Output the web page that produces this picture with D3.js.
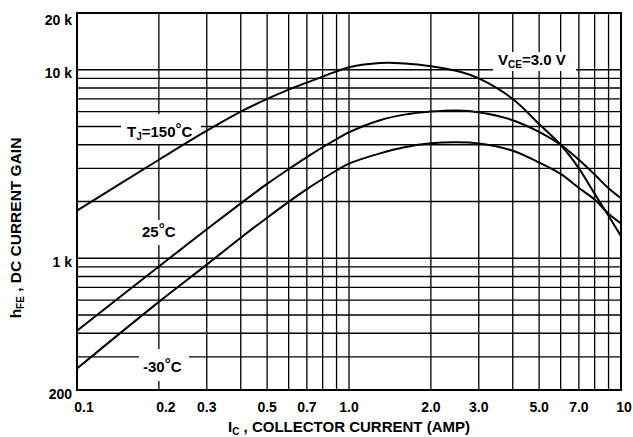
<!DOCTYPE html>
<html>
<head>
<meta charset="utf-8">
<script src="https://cdn.jsdelivr.net/npm/d3@7/dist/d3.min.js"></script>
<style>
  html, body { margin: 0; padding: 0; background: #fff; }
  svg { display: block; }
  text { font-family: "Liberation Sans", Arial, Helvetica, sans-serif; font-weight: bold; fill: #000; }
</style>
</head>
<body>
<svg id="chart" width="633" height="437"></svg>
<script>
// ---------- data ----------
const collectorCurrent = [0.1, 0.2, 0.3, 0.4, 0.5, 0.6, 0.7, 0.8, 0.9, 1.0, 1.3, 1.6, 2.0, 2.5, 3.0, 4.0, 5.0, 6.0, 7.0, 8.0, 9.0, 10];
const gain150C = [1790, 3330, 4750, 6000, 7000, 7850, 8550, 9200, 9800, 10300, 10850, 10800, 10450, 9850, 9000, 7000, 5150, 4000, 3000, 2200, 1680, 1310];
const gain25C  = [412, 905, 1425, 1955, 2480, 2970, 3440, 3880, 4290, 4660, 5400, 5780, 6000, 6080, 5950, 5400, 4680, 4000, 3330, 2780, 2350, 2080];
const gainM30C = [260, 587, 925, 1284, 1641, 1990, 2326, 2633, 2921, 3176, 3600, 3880, 4070, 4120, 4060, 3720, 3220, 2800, 2360, 2050, 1720, 1530];

const xTickValues = [0.1, 0.2, 0.3, 0.5, 0.7, 1.0, 2.0, 3.0, 5.0, 7.0, 10];
const xTickLabels = ["0.1", "0.2", "0.3", "0.5", "0.7", "1.0", "2.0", "3.0", "5.0", "7.0", "10"];
const yTickValues = [20000, 10000, 1000, 200];
const yTickLabels = ["20 k", "10 k", "1 k", "200"];

const xGrid = [0.2, 0.3, 0.4, 0.5, 0.6, 0.7, 0.8, 0.9, 1, 2, 3, 4, 5, 6, 7, 8, 9];
const yGrid = [300, 400, 500, 600, 700, 800, 900, 1000, 2000, 3000, 4000, 5000, 6000, 7000, 8000, 9000, 10000];

// ---------- layout ----------
const L = 77, R = 621, T = 13, B = 390;
const svg = d3.select("#chart");
const x = d3.scaleLog().domain([0.1, 10]).range([L, R]);
const y = d3.scaleLog().domain([200, 20000]).range([B, T]);

// grid
const g = svg.append("g").attr("stroke", "#000").attr("stroke-width", 1.3);
g.selectAll(".vx").data(xGrid).join("line")
  .attr("x1", d => x(d)).attr("x2", d => x(d)).attr("y1", T).attr("y2", B);
g.selectAll(".hy").data(yGrid).join("line")
  .attr("x1", L).attr("x2", R).attr("y1", d => y(d)).attr("y2", d => y(d));

// white gaps behind the in-plot labels
const gaps = [
  [121, 114, 80, 30],   // TJ label
  [139, 220, 44, 25],   // 25C
  [139, 349, 50, 32],   // -30C
  [493, 52, 83, 19]     // VCE
];
svg.append("g").selectAll("rect").data(gaps).join("rect")
  .attr("x", d => d[0]).attr("y", d => d[1]).attr("width", d => d[2]).attr("height", d => d[3])
  .attr("fill", "#fff");

// border
svg.append("rect").attr("x", L).attr("y", T).attr("width", R - L).attr("height", B - T)
  .attr("fill", "none").attr("stroke", "#000").attr("stroke-width", 2);

// curves
const line = d3.line()
  .x((d, i) => x(collectorCurrent[i]))
  .y(d => y(d))
  .curve(d3.curveCatmullRom.alpha(0.5));
[gain150C, gain25C, gainM30C].forEach(s => {
  svg.append("path").attr("d", line(s))
    .attr("fill", "none").attr("stroke", "#000").attr("stroke-width", 2);
});

// x tick labels
const xNudge = { "0.1": 7, "0.2": 7, "10": 3 };
svg.append("g").selectAll("text").data(xTickValues).join("text")
  .attr("x", (d, i) => x(d) + (xNudge[xTickLabels[i]] || 0))
  .attr("y", 412)
  .attr("text-anchor", "middle")
  .attr("font-size", 14)
  .text((d, i) => xTickLabels[i]);

// y tick labels
svg.append("g").selectAll("text").data(yTickValues).join("text")
  .attr("x", 72)
  .attr("y", d => Math.max(y(d) + 8.5, 25))
  .attr("text-anchor", "end")
  .attr("font-size", 14)
  .text((d, i) => yTickLabels[i]);

// axis titles
const xt = svg.append("text").attr("x", 349).attr("y", 432).attr("text-anchor", "middle").attr("font-size", 15);
xt.append("tspan").text("I");
xt.append("tspan").attr("font-size", 10).attr("dy", 3).text("C");
xt.append("tspan").attr("dy", -3).text(" , COLLECTOR CURRENT (AMP)");

const yt = svg.append("text").attr("transform", "translate(21,228) rotate(-90)")
  .attr("text-anchor", "middle").attr("font-size", 15.5);
yt.append("tspan").text("h");
yt.append("tspan").attr("font-size", 10).attr("dy", 3).text("FE");
yt.append("tspan").attr("dy", -3).text(" , DC CURRENT GAIN");

// curve labels
const t1 = svg.append("text").attr("x", 127).attr("y", 137).attr("font-size", 15);
t1.append("tspan").text("T");
t1.append("tspan").attr("font-size", 10).attr("dy", 3).text("J");
t1.append("tspan").attr("dy", -3).text("=150");
t1.append("tspan").attr("dy", -3).text("°");
t1.append("tspan").attr("dy", 3).text("C");

const t2 = svg.append("text").attr("x", 142).attr("y", 237).attr("font-size", 15);
t2.append("tspan").text("25");
t2.append("tspan").attr("dy", -3).text("°");
t2.append("tspan").attr("dy", 3).text("C");

const t3 = svg.append("text").attr("x", 143).attr("y", 372).attr("font-size", 15);
t3.append("tspan").text("-30");
t3.append("tspan").attr("dy", -3).text("°");
t3.append("tspan").attr("dy", 3).text("C");

const t4 = svg.append("text").attr("x", 498).attr("y", 65).attr("font-size", 15);
t4.append("tspan").text("V");
t4.append("tspan").attr("font-size", 10).attr("dy", 3).text("CE");
t4.append("tspan").attr("dy", -3).text("=3.0 V");
</script>
</body>
</html>
